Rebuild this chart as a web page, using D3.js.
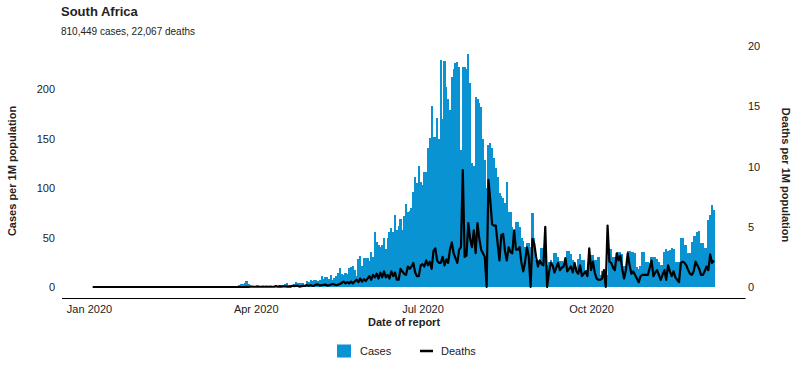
<!DOCTYPE html>
<html>
<head>
<meta charset="utf-8">
<script src="https://cdn.jsdelivr.net/npm/d3@7"></script>
<style>
  body { margin: 0; background: #fff; }
  text { font-family: "Liberation Sans", Arial, sans-serif; fill: #222; }
</style>
</head>
<body>
<div id="chart"></div>
<script>
// daily values per 1M population, from 2020-01-03
const startDate = "2020-01-03";

const casesJan = [0,0,0,0,0,0,0,0,0,0,0,0,0,0,0,0,0,0,0,0,0,0,0,0,0,0,0,0,0];
const casesFeb = [0,0,0,0,0,0,0,0,0,0,0,0,0,0,0,0,0,0,0,0,0,0,0,0,0,0,0,0,0];
const casesMar = [0,0,0,0,0.02,0,0.02,0.02,0.07,0,0.1,0.07,0.1,0.2,0.2,0.2,0.4,0.5,0.6,0.9,0.6,0.6,2.2,2.6,2.6,3.7,6.0,3.5,1.6,0.8,1.2];
const casesApr = [1.3,0.7,1.4,1.3,1.2,0.9,1.2,1.3,1.5,0.5,0.5,2.4,1.4,2.4,2.5,1.7,3.0,4.2,1.5,2.4,2.1,2.8,5.4,4.5,4.2,4.1,4.1,2.4,6.0,5.2];
const casesMay = [7.2,6.5,7.5,7.4,6.3,7.1,11.2,8.0,10.5,10.0,8.2,11.8,7.5,9.5,11.2,13.8,19.6,12.9,12.6,14.5,13.5,19.1,20.5,20.9,17.4,11.4,28.2,31.0,21.7,29.1,28.9];
const casesJun = [29,26,35,30,56,45,42,40,42,49,38,50,56,60,56,73,58,62,69,58,72,84,76,77,80,96,111,105,122,106];
const casesJul = [103,116,116,140,151,183,152,152,171,149,229,170,228,202,190,179,212,220,226,227,222,138,222,222,220,235,206,125,122,192,190];
const casesAug = [186,182,150,128,100,143,145,140,130,120,111,95,92,90,85,106,76,76,61,55,66,66,61,50,46,40,44,44,40,75,49];
const casesSep = [27,27,27,39,39,35,22,25,27,25,34,34,30,26,26,20,26,36,36,33,27,21,20,28,33,27,27,17,17,30];
const casesOct = [32,32,27,27,30,12,16,15,13,12,39,38,30,30,31,35,35,33,21,21,36,36,35,35,34,20,18,21,35,35,25];
const casesNov = [25,24,30,30,30,28,25,22,22,35,38,36,37,39,38,25,25,25,49,49,42,42,34,34,45,52,52,56,57,44];
const casesDec = [44,39,39,68,73,83,78];

const deathsJan = [0,0,0,0,0,0,0,0,0,0,0,0,0,0,0,0,0,0,0,0,0,0,0,0,0,0,0,0,0];
const deathsFeb = [0,0,0,0,0,0,0,0,0,0,0,0,0,0,0,0,0,0,0,0,0,0,0,0,0,0,0,0,0];
const deathsMar = [0,0,0,0,0,0,0,0,0,0,0,0,0,0,0,0,0,0,0,0,0,0,0,0,0,0,0.02,0,0.02,0.03,0.02];
const deathsApr = [0.02,0.05,0.02,0.02,0.03,0.02,0.03,0.02,0.03,0.02,0.02,0.07,0.02,0.05,0.03,0.05,0.05,0.03,0.05,0.03,0.1,0.07,0.1,0.1,0.03,0.08,0.1,0.12,0.15,0.1];
const deathsMay = [0.15,0.1,0.12,0.2,0.22,0.12,0.15,0.17,0.2,0.12,0.13,0.2,0.25,0.2,0.15,0.2,0.25,0.35,0.45,0.3,0.4,0.3,0.45,0.3,0.45,0.6,0.4,0.7,0.45,0.65,0.5];
const deathsJun = [0.7,0.9,0.6,1.0,0.8,1.1,0.7,1.2,0.8,1.3,0.8,1.0,0.7,1.3,0.9,1.2,0.6,0.6,1.5,1.3,1.1,1.0,1.7,1.5,1.7,2.0,1.2,0.9,0.9,1.8];
const deathsJul = [1.9,1.7,2.2,1.8,2.1,1.5,3.0,3.2,2.2,2.0,2.0,2.5,1.8,2.3,2.0,3.1,3.7,2.8,2.4,2.0,3.1,3.3,9.7,2.5,2.6,5.3,4.0,3.3,4.7,2.8,5.3];
const deathsAug = [4.0,3.1,2.8,2.5,0,8.9,7.2,5.2,5.1,5.1,3.6,2.2,4.3,4.4,3.0,2.2,3.3,2.9,2.8,4.7,3.1,3.1,3.3,2.0,1.3,2.1,3.3,2.5,0,4.0,3.6];
const deathsSep = [2.5,1.7,2.2,1.9,1.8,5.0,0,1.2,2.0,1.8,1.2,1.6,2.0,1.4,1.6,1.7,2.4,1.3,1.5,1.7,1.2,2.0,1.3,1.1,1.8,0.9,1.1,1.3,0.9,3.2];
const deathsOct = [1.4,2.1,1.2,0.7,0.6,0.6,0.7,1.4,0,5.1,2.1,2.0,1.6,1.4,2.8,2.2,2.6,1.5,0.7,1.4,2.8,1.8,1.1,1.3,1.0,0.7,0.4,0.9,1.0,1.0,1.0];
const deathsNov = [1.0,1.6,2.2,0.9,1.2,1.4,1.0,0.6,1.0,1.4,0.6,1.8,1.3,0.9,1.3,0.8,0.6,0.4,2.0,2.1,2.0,1.8,1.4,1.1,1.0,1.3,2.1,1.8,1.5,1.0];
const deathsDec = [1.0,1.3,1.7,1.4,2.7,2.0,2.2];

const xTicks = ["2020-01-01", "2020-04-01", "2020-07-01", "2020-10-01"];
const casesTicks = [0, 50, 100, 150, 200];
const deathsTicks = [0, 5, 10, 15, 20];

const cases = [].concat(casesJan, casesFeb, casesMar, casesApr, casesMay, casesJun,
  casesJul, casesAug, casesSep, casesOct, casesNov, casesDec);
const deaths = [].concat(deathsJan, deathsFeb, deathsMar, deathsApr, deathsMay, deathsJun,
  deathsJul, deathsAug, deathsSep, deathsOct, deathsNov, deathsDec);

const parse = d3.utcParse("%Y-%m-%d");
const t0 = parse(startDate);
const data = cases.map((c, i) => ({ date: d3.utcDay.offset(t0, i), cases: c, deaths: deaths[i] }));

const W = 801, H = 369;
const barColor = "#0a93d3";

const svg = d3.select("#chart").append("svg")
  .attr("width", W)
  .attr("height", H);

const x = d3.scaleUtc()
  .domain([parse("2019-12-17"), parse("2020-12-24")])
  .range([61.5, 745]);
const yL = d3.scaleLinear().domain([0, 200]).range([287, 89]);
const yR = d3.scaleLinear().domain([0, 20]).range([287, 46]);

// bars, snapped to pixels so neighbours read as a solid block
svg.append("g")
  .attr("shape-rendering", "crispEdges")
  .selectAll("rect")
  .data(data.filter(d => d.cases > 0))
  .join("rect")
  .attr("x", d => x(d.date) - 1.1)
  .attr("width", 2.2)
  .attr("y", d => yL(d.cases))
  .attr("height", d => yL(0) - yL(d.cases))
  .attr("fill", barColor);

// deaths line
svg.append("path")
  .datum(data)
  .attr("fill", "none")
  .attr("stroke", "#000")
  .attr("stroke-width", 2.2)
  .attr("stroke-linejoin", "round")
  .attr("d", d3.line().x(d => x(d.date)).y(d => yR(d.deaths)));

// x axis
const xAxis = svg.append("g")
  .attr("transform", "translate(0,298)")
  .call(d3.axisBottom(x)
    .tickValues(xTicks.map(parse))
    .tickFormat(d3.utcFormat("%b %Y"))
    .tickSize(0)
    .tickPadding(7));
xAxis.select(".domain").attr("stroke", "#000");
xAxis.selectAll("text").style("font-size", "11px").attr("fill", "#222");

// left axis
const yAxisL = svg.append("g")
  .attr("transform", "translate(55,0)")
  .call(d3.axisLeft(yL).tickValues(casesTicks).tickSize(0).tickPadding(0));
yAxisL.select(".domain").remove();
yAxisL.selectAll("text").style("font-size", "11px").attr("fill", "#222");

// right axis
const yAxisR = svg.append("g")
  .attr("transform", "translate(748,0)")
  .call(d3.axisRight(yR).tickValues(deathsTicks).tickSize(0).tickPadding(0));
yAxisR.select(".domain").remove();
yAxisR.selectAll("text").style("font-size", "11px").attr("fill", "#222");

// titles
svg.append("text")
  .attr("x", 61).attr("y", 16)
  .style("font-size", "13px").style("font-weight", "bold")
  .text("South Africa");
svg.append("text")
  .attr("x", 61).attr("y", 34.5)
  .style("font-size", "10px")
  .text("810,449 cases, 22,067 deaths");

svg.append("text")
  .attr("x", 404).attr("y", 325.5)
  .attr("text-anchor", "middle")
  .style("font-size", "11px").style("font-weight", "bold")
  .text("Date of report");

svg.append("text")
  .attr("transform", "translate(16,171) rotate(-90)")
  .attr("text-anchor", "middle")
  .style("font-size", "11px").style("font-weight", "bold")
  .text("Cases per 1M population");

svg.append("text")
  .attr("transform", "translate(782,175) rotate(90)")
  .attr("text-anchor", "middle")
  .style("font-size", "11px").style("font-weight", "bold")
  .text("Deaths per 1M population");

// legend
const legend = svg.append("g");
legend.append("rect")
  .attr("x", 337).attr("y", 344.5)
  .attr("width", 14).attr("height", 13)
  .attr("fill", barColor);
legend.append("text")
  .attr("x", 360).attr("y", 355)
  .style("font-size", "11px")
  .text("Cases");
legend.append("line")
  .attr("x1", 420).attr("x2", 433)
  .attr("y1", 351).attr("y2", 351)
  .attr("stroke", "#000").attr("stroke-width", 2.5);
legend.append("text")
  .attr("x", 441).attr("y", 355)
  .style("font-size", "11px")
  .text("Deaths");
</script>
</body>
</html>
